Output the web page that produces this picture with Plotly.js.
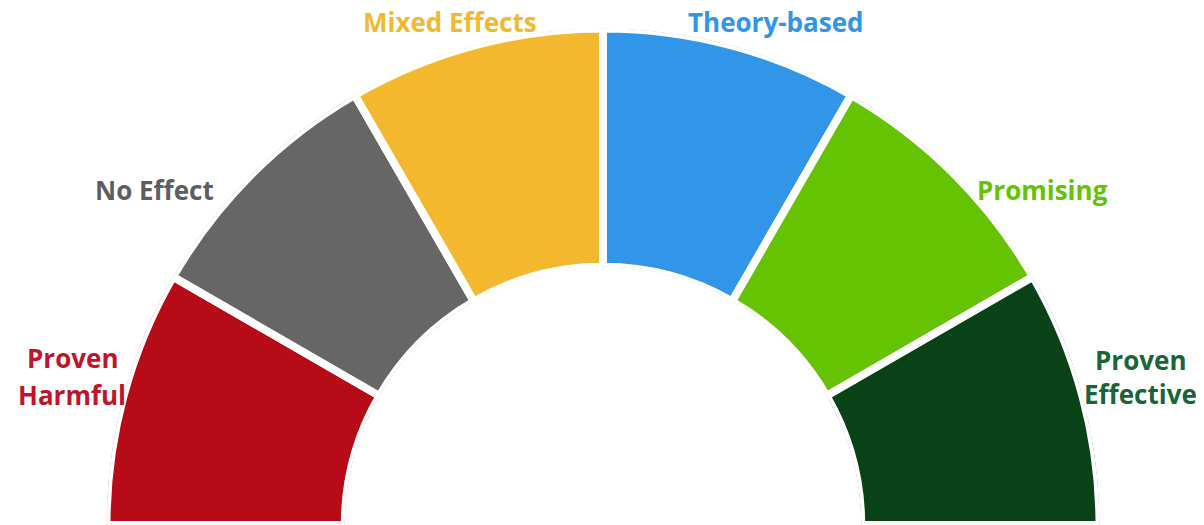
<!DOCTYPE html>
<html>
<head>
<meta charset="utf-8">
<script src="https://cdn.plot.ly/plotly-3.0.1.min.js"></script>
<style>html,body{margin:0;padding:0;background:#fff;}#chart{width:1204px;height:525px;}</style>
</head>
<body>
<div id="chart"></div>
<script>
// Data (left to right along the arc)
const categories = ["Proven<br>Harmful", "No Effect", "Mixed Effects", "Theory-based", "Promising", "Proven<br>Effective"];
const values = [1, 1, 1, 1, 1, 1];
const colors = ["#B70B17", "#666666", "#F4B82E", "#3296E8", "#66C304", "#0A4217"];
const labelColors = ["#C0142A", "#5E5E5E", "#F4B82E", "#3296E8", "#66C304", "#1B6437"];

const W = 1204, H = 525;
const n = categories.length;
const span = 180 / n;
const thetas = categories.map((_, i) => span / 2 + i * span);

// label placement (style): polar angle (deg, math convention) and pixel radius from arc centre
const labelAngle = [164.4, 143.3, 106.9, 71.1, 37.3, 15.4];
const labelRadius = [551, 560, 526, 532, 553, 558];
const labelPitch = [37, 0, 0, 0, 0, 34];
const cx = 603, cy = 525;

const bars = {
  type: "barpolar",
  r: values,
  theta: thetas,
  width: thetas.map(() => span),
  marker: { color: colors, line: { color: "#ffffff", width: 8 } },
  hoverinfo: "skip",
  showlegend: false
};

const annotations = [];
categories.forEach((txt, i) => {
  const a = labelAngle[i] * Math.PI / 180;
  const px = cx + labelRadius[i] * Math.cos(a);
  const py = cy - labelRadius[i] * Math.sin(a);
  const lines = txt.split("<br>");
  lines.forEach((line, k) => {
    const off = (k - (lines.length - 1) / 2) * labelPitch[i];
    annotations.push({
      xref: "paper", yref: "paper",
      x: px / W, y: 1 - (py + off) / H,
      xanchor: "center", yanchor: "middle",
      text: line, showarrow: false,
      font: { family: "Open Sans, sans-serif", size: 26, color: labelColors[i], weight: 700 }
    });
  });
});

const layout = {
  width: W,
  height: H,
  margin: { l: 0, r: 0, t: 0, b: 0, pad: 0 },
  paper_bgcolor: "#ffffff",
  showlegend: false,
  annotations: annotations,
  polar: {
    domain: { x: [106.5 / W, 1099.5 / W], y: [0, 496.5 / H] },
    sector: [0, 180],
    hole: 0.52,
    bgcolor: "rgba(0,0,0,0)",
    radialaxis: { visible: false, range: [0, 1] },
    angularaxis: {
      direction: "clockwise",
      rotation: 180,
      showline: false,
      showgrid: false,
      showticklabels: false,
      ticks: ""
    }
  }
};

Plotly.newPlot("chart", [bars], layout, { displayModeBar: false, staticPlot: true });
</script>
</body>
</html>
